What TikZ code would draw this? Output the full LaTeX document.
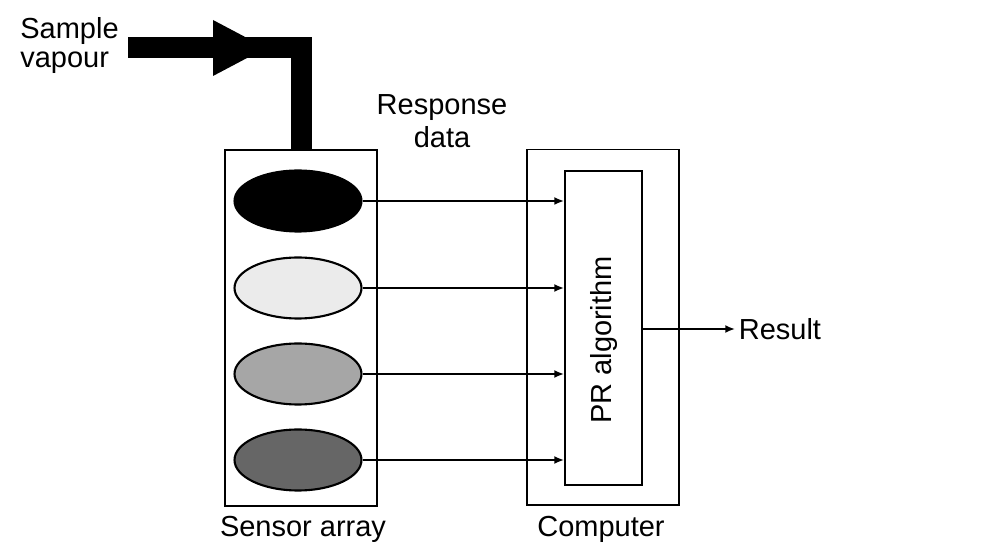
\documentclass[tikz,border=0pt]{standalone}
\usepackage{fontspec}
\setmainfont{Liberation Sans}
\usetikzlibrary{positioning,arrows.meta,shapes.geometric}

\begin{document}
\begin{tikzpicture}[x=0.02cm,y=-0.02cm,every node/.style={font=\fontsize{16.5}{16.5}\selectfont}]
	%% some definitions
	\tikzset{
		box/.style={draw,line width=1.1pt,minimum width=3.04cm,minimum height=7.12cm,inner sep=0pt},
		sensor/.style={ellipse,draw,line width=1.2pt,minimum width=2.54cm,minimum height=1.22cm,inner sep=0pt},
		data/.style={arrows=-{Latex[length=5.5pt,width=4.5pt]},line width=1pt}
	}
	\def\pipe{0.42cm} % width of the vapour pipe
	\useasboundingbox (0,0) rectangle (981,543);

	% boxes
	\node[box] (sa) at (301,328) {};
	\node[box] (comp) at (603,327.5) {};
	\node[draw,line width=1.1pt,minimum width=1.54cm,minimum height=6.28cm,inner sep=0pt] (pr) at (603.5,328) {};
	\node[rotate=90,anchor=base] (prl) at (611,340) {PR algorithm};

	% sample vapour in
	\coordinate (vin) at (128,48);
	\draw[line width=\pipe] (vin) -| (sa.north);
	\fill (213,20) -- (266,48) -- (213,76) -- cycle;
	\node[anchor=north west,align=left,inner sep=0pt] (sv) at (20,17) {Sample\\vapour};

	% sensors
	\foreach \i/\y/\c in {1/201/black,2/288/black!8,3/374/black!35,4/460/black!60}{
		\node[sensor,fill=\c] (s\i) at (298,\y) {};
		\draw[data] (s\i.east) -- (s\i.east -| pr.west);
	}
	\node[align=center,inner sep=0pt,font=\fontsize{16.5}{18.7}\selectfont] (rd) at (442,121) {Response\\data};

	% result
	\node[anchor=west,inner sep=2pt] (res) at (735,329) {Result};
	\draw[data] (pr.east |- res.west) -- (res.west);

	% labels
	\node[anchor=base] (sal) at (303,537) {Sensor array};
	\node[anchor=base] (coml) at (601,537) {Computer};
\end{tikzpicture}
\end{document}
